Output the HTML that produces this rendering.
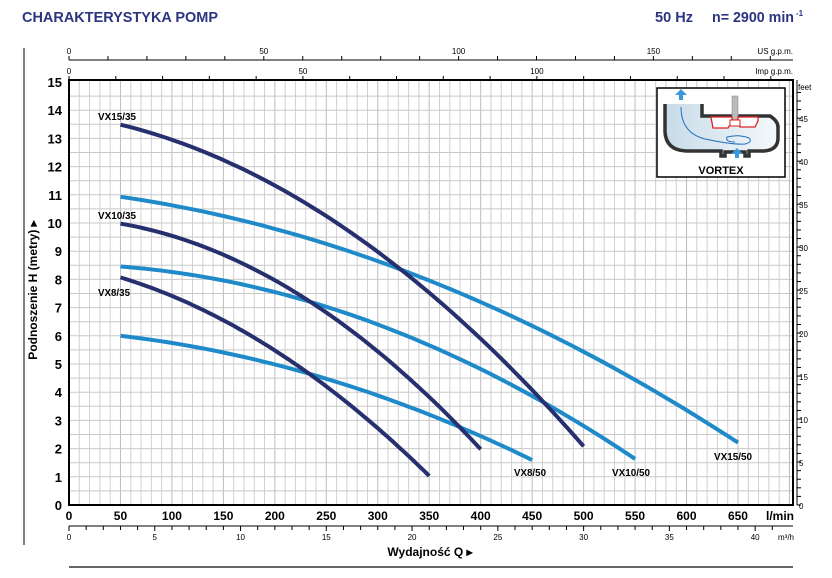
<!DOCTYPE html>
<html><head><meta charset="utf-8"><style>
body{margin:0;background:#fff;width:832px;height:578px;overflow:hidden}
svg{display:block;font-family:"Liberation Sans",sans-serif}
</style></head><body>
<svg id="s" width="832" height="578" viewBox="0 0 832 578" xmlns="http://www.w3.org/2000/svg">
<text x="22" y="22" font-size="15" font-weight="bold" fill="#2b3580" textLength="196" lengthAdjust="spacingAndGlyphs">CHARAKTERYSTYKA POMP</text>
<text x="655" y="22" font-size="15" font-weight="bold" fill="#2b3580" textLength="38" lengthAdjust="spacingAndGlyphs">50 Hz</text>
<text x="712" y="22" font-size="15" font-weight="bold" fill="#2b3580" textLength="82" lengthAdjust="spacingAndGlyphs">n= 2900 min</text>
<text x="796" y="16" font-size="8" font-weight="bold" fill="#2b3580">-1</text>
<line x1="24" y1="48" x2="24" y2="545" stroke="#000" stroke-width="1"/>
<g id="grid"></g>
<g id="curves"></g>
<g font-size="10" font-weight="bold" fill="#000">
<text x="98" y="120" textLength="38" lengthAdjust="spacingAndGlyphs">VX15/35</text>
<text x="98" y="219" textLength="38" lengthAdjust="spacingAndGlyphs">VX10/35</text>
<text x="98" y="296" textLength="32" lengthAdjust="spacingAndGlyphs">VX8/35</text>
<text x="514" y="476" textLength="32" lengthAdjust="spacingAndGlyphs">VX8/50</text>
<text x="612" y="476" textLength="38" lengthAdjust="spacingAndGlyphs">VX10/50</text>
<text x="714" y="460" textLength="38" lengthAdjust="spacingAndGlyphs">VX15/50</text>
</g>
<text transform="translate(37,290) rotate(-90)" text-anchor="middle" font-size="12" font-weight="bold">Podnoszenie H (metry) ▸</text>
<text x="430" y="556" text-anchor="middle" font-size="12" font-weight="bold">Wydajność Q ▸</text>
<line x1="69" y1="567" x2="793" y2="567" stroke="#666" stroke-width="2"/>
<g>
<defs><linearGradient id="gf" x1="0" y1="0" x2="1" y2="0"><stop offset="0" stop-color="#c8dbe8"/><stop offset="1" stop-color="#f4f8fb"/></linearGradient></defs>
<rect x="657" y="88" width="128" height="89" fill="#fff" stroke="#000" stroke-width="1.5"/>
<path d="M665 104 V132 Q666 150 686 151 H721 V156 H725 V152 H745 V156 H749 V151 H764 Q778 150 778 138 V127 Q778 121 770 116 H702 V104" fill="url(#gf)" stroke="#333" stroke-width="3.5"/>
<rect x="732" y="96" width="6" height="24" fill="#bbb" stroke="#888" stroke-width="0.5"/>
<path d="M711 117 h21 v5 l-4 6 h-15 z M738 117 h20 v4 l-3 6 h-15 l-2 -4 z" fill="#fff" stroke="#d22" stroke-width="1.3"/>
<rect x="730" y="120" width="10" height="6" fill="#fff" stroke="#d22" stroke-width="1"/>
<path d="M681 107 q0 26 24 32 q28 6 40 5 q8 -2 4 -6 q-10 -4 -22 -1 q-2 5 8 5" fill="none" stroke="#1f6fc0" stroke-width="1"/>
<path d="M681 89 l6 6 h-4 v5 h-4 v-5 h-4 z M737 148 l6 6 h-4 v4 h-4 v-4 h-4 z" fill="#3a9ad9"/>
<text x="721" y="174" text-anchor="middle" font-size="11" font-weight="bold">VORTEX</text>
</g>
</svg>
<script>
const NS="http://www.w3.org/2000/svg";
const X=q=>69+q*1.0292, Y=h=>505-h*28.2;
const g=document.getElementById("grid");
function el(p,t,a,txt){const e=document.createElementNS(NS,t);for(const k in a)e.setAttribute(k,a[k]);if(txt!==undefined)e.textContent=txt;p.appendChild(e);return e;}
const R=793;
for(let q=10;X(q)<R;q+=10)el(g,"line",{x1:X(q),y1:80,x2:X(q),y2:505,stroke:q%50?"#d0d0d0":"#bdbdbd","stroke-width":1});
for(let h=0.5;h<15;h+=0.5)el(g,"line",{x1:69,y1:Y(h),x2:R,y2:Y(h),stroke:"#c8c8c8","stroke-width":1});
el(g,"rect",{x:69,y:80,width:R-69,height:425,fill:"none",stroke:"#000","stroke-width":2});
for(let h=0;h<=15;h++)el(g,"text",{x:62,y:Y(h)+5,"text-anchor":"end","font-size":13,"font-weight":"bold"},h);
for(let q=0;q<=650;q+=50)el(g,"text",{x:X(q),y:520,"text-anchor":"middle","font-size":12,"font-weight":"bold"},q);
el(g,"text",{x:766,y:520,"font-size":12,"font-weight":"bold"},"l/min");
el(g,"line",{x1:69,y1:526,x2:R,y2:526,stroke:"#000"});
for(let m=0;m<=41;m++){const x=X(m*16.667);if(x>R)break;el(g,"line",{x1:x,y1:526,x2:x,y2:m%5?530:531,stroke:"#000"});}
for(let m=0;m<=40;m+=5)el(g,"text",{x:X(m*16.667),y:540,"text-anchor":"middle","font-size":8},m);
el(g,"text",{x:778,y:540,"font-size":8},"m³/h");
el(g,"line",{x1:R+4,y1:80,x2:R+4,y2:505,stroke:"#000"});
for(let f=0;f<=48;f++){const y=505-f/3.2808*28.2;if(y<82)break;el(g,"line",{x1:R+4,y1:y,x2:R+8,y2:y,stroke:"#000"});}
for(let f=0;f<=45;f+=5)el(g,"text",{x:R+6,y:505-f/3.2808*28.2+4,"font-size":8},f);
el(g,"text",{x:R+5,y:90,"font-size":8},"feet");
el(g,"line",{x1:69,y1:60,x2:R,y2:60,stroke:"#000"});
for(let u=0;u<=185;u+=10){const x=X(u*3.7854);if(x>R)break;el(g,"line",{x1:x,y1:60,x2:x,y2:56,stroke:"#000"});}
for(let u=0;u<=150;u+=50)el(g,"text",{x:X(u*3.7854),y:54,"text-anchor":"middle","font-size":8},u);
el(g,"text",{x:793,y:54,"text-anchor":"end","font-size":8},"US g.p.m.");
el(g,"line",{x1:69,y1:80,x2:R,y2:80,stroke:"#000"});
for(let u=0;u<=160;u+=10){const x=X(u*4.546);if(x>R)break;el(g,"line",{x1:x,y1:80,x2:x,y2:76,stroke:"#000"});}
for(let u=0;u<=100;u+=50)el(g,"text",{x:X(u*4.546),y:74,"text-anchor":"middle","font-size":8},u);
el(g,"text",{x:793,y:74,"text-anchor":"end","font-size":8},"Imp g.p.m.");
const c=document.getElementById("curves");
const D="#27306e",L="#1f8ac9";
const data=[
[L,[[50,11],[176,9.96],[250,9.15],[326,8.33],[450,6.4],[565,4.26],[650,2.1]]],
[L,[[50,8.5],[176,7.7],[246,7.0],[338,5.96],[464,3.6],[550,1.6]]],
[L,[[50,6],[176,5.2],[228,4.7],[300,3.9],[383,2.7],[450,1.6]]],
[D,[[50,13.5],[100,13.0],[150,12.2],[220,10.8],[326,8.33],[402,5.85],[464,3.6],[500,2.0]]],
[D,[[50,10],[100,9.5],[176,8.44],[246,7.0],[305,5.25],[338,4.2],[400,2.0]]],
[D,[[50,8],[100,7.5],[176,6.1],[228,4.7],[280,3.3],[331,1.67],[350,1.1]]]];
function fit(pts){
 const S=Array.from({length:3},()=>[0,0,0,0]);
 for(const [q,h] of pts){const t=q/100,v=[1,t,t*t];for(let i=0;i<3;i++){for(let j=0;j<3;j++)S[i][j]+=v[i]*v[j];S[i][3]+=v[i]*h;}}
 for(let i=0;i<3;i++){let p=S[i][i];for(let k=i;k<4;k++)S[i][k]/=p;for(let r=0;r<3;r++)if(r!==i){const f=S[r][i];for(let k=i;k<4;k++)S[r][k]-=f*S[i][k];}}
 return [S[0][3],S[1][3],S[2][3]];
}
for(const [col,pts] of data){
 const [a,b,cc]=fit(pts),q0=pts[0][0],q1=pts[pts.length-1][0];
 let d="";
 for(let i=0;i<=60;i++){const q=q0+(q1-q0)*i/60,t=q/100;const h=a+b*t+cc*t*t;
  d+=(i?" L":"M")+X(q).toFixed(1)+","+Y(h).toFixed(1);}
 el(c,"path",{d:d,fill:"none",stroke:col,"stroke-width":4,"stroke-linejoin":"round"});
}
</script>
</body></html>
